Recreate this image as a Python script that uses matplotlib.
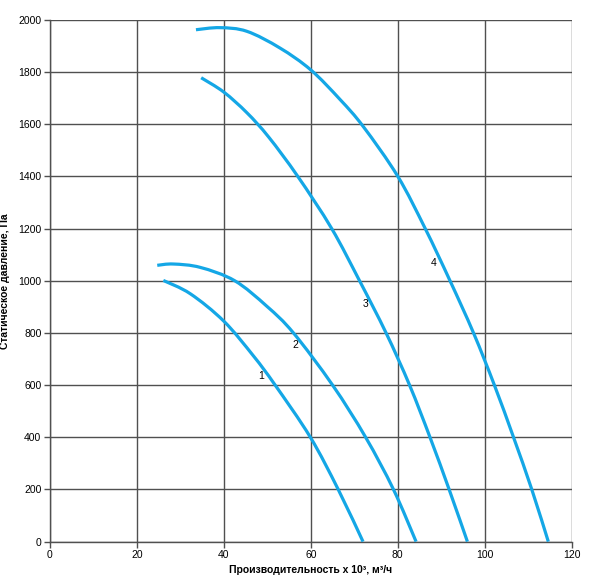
import matplotlib
matplotlib.use('Agg')
import matplotlib.pyplot as plt
from matplotlib.path import Path
from matplotlib.patches import PathPatch

plt.rcParams['font.family'] = ['Liberation Sans', 'DejaVu Sans']

# curves (x in 10^3 m3/h, y in Pa)
x1 = [26.1, 32.3, 40.0, 46.8, 51.8, 59.9, 66.3, 72.0]
y1 = [1001, 950, 845, 712, 600, 400, 200, 0]

x2 = [24.7, 28.4, 34.6, 42.5, 49.9, 56.0, 65.0, 72.6, 79.0, 84.2]
y2 = [1059, 1064, 1051, 1000, 902, 800, 600, 400, 200, 0]

x3 = [34.8, 40.0, 45.3, 50.3, 57.0, 64.8, 71.2, 77.3, 82.7, 87.4, 91.8, 96.0]
y3 = [1778, 1723, 1644, 1551, 1400, 1200, 1000, 800, 600, 400, 200, 0]

x4 = [33.6, 39.1, 45.3, 52.9, 60.0, 66.7, 72.1, 80.0, 86.3, 92.0, 97.4, 102.2, 106.6, 110.8, 114.6]
y4 = [1962, 1970, 1956, 1892, 1808, 1695, 1590, 1400, 1200, 1000, 800, 600, 400, 200, 0]

curve_labels = ['1', '2', '3', '4']
label_x = [48.5, 56.5, 72.5, 88.3]
label_y = [634, 754, 911, 1068]

xticks = [0, 20, 40, 60, 80, 100, 120]
yticks = [0, 200, 400, 600, 800, 1000, 1200, 1400, 1600, 1800, 2000]

blue = '#14a7e6'


def smooth_path(xs, ys):
    # catmull-rom through the read points, as cubic bezier segments
    pts = list(zip(xs, ys))
    verts = [pts[0]]
    codes = [Path.MOVETO]
    n = len(pts)
    for i in range(n - 1):
        p0 = pts[i - 1] if i > 0 else pts[i]
        p1, p2 = pts[i], pts[i + 1]
        p3 = pts[i + 2] if i + 2 < n else pts[i + 1]
        c1 = (p1[0] + (p2[0] - p0[0]) / 6, p1[1] + (p2[1] - p0[1]) / 6)
        c2 = (p2[0] - (p3[0] - p1[0]) / 6, p2[1] - (p3[1] - p1[1]) / 6)
        verts += [c1, c2, p2]
        codes += [Path.CURVE4] * 3
    return Path(verts, codes)


fig = plt.figure(figsize=(6.0, 5.83), dpi=100)
ax = fig.add_axes([0.083, 0.071, 0.870, 0.895])

for xs, ys in [(x1, y1), (x2, y2), (x3, y3), (x4, y4)]:
    ax.add_patch(PathPatch(smooth_path(xs, ys), facecolor='none', edgecolor=blue,
                           lw=2.3, capstyle='butt', zorder=3))

for t, lx, ly in zip(curve_labels, label_x, label_y):
    ax.text(lx, ly, t, fontsize=7.5, ha='center', va='center', zorder=4)

ax.set_xlim(0, 120)
ax.set_ylim(0, 2000)
ax.set_xticks(xticks)
ax.set_yticks(yticks)
ax.grid(True, color='#505050', lw=1.0, zorder=1)
ax.set_axisbelow(True)
for s in ['top', 'right']:
    ax.spines[s].set_visible(False)
for s in ['left', 'bottom']:
    ax.spines[s].set_color('#505050')
    ax.spines[s].set_linewidth(1.0)
ax.tick_params(direction='out', length=4, width=1.0, color='#505050',
               labelsize=7.5, pad=2)

ax.set_xlabel('Производительность х 10³, м³/ч', fontsize=7.5,
              fontweight='bold', labelpad=4)
ax.set_ylabel('Статическое давление, Па', fontsize=7.5,
              fontweight='bold', labelpad=6)

fig.savefig('out.png', dpi=100)
